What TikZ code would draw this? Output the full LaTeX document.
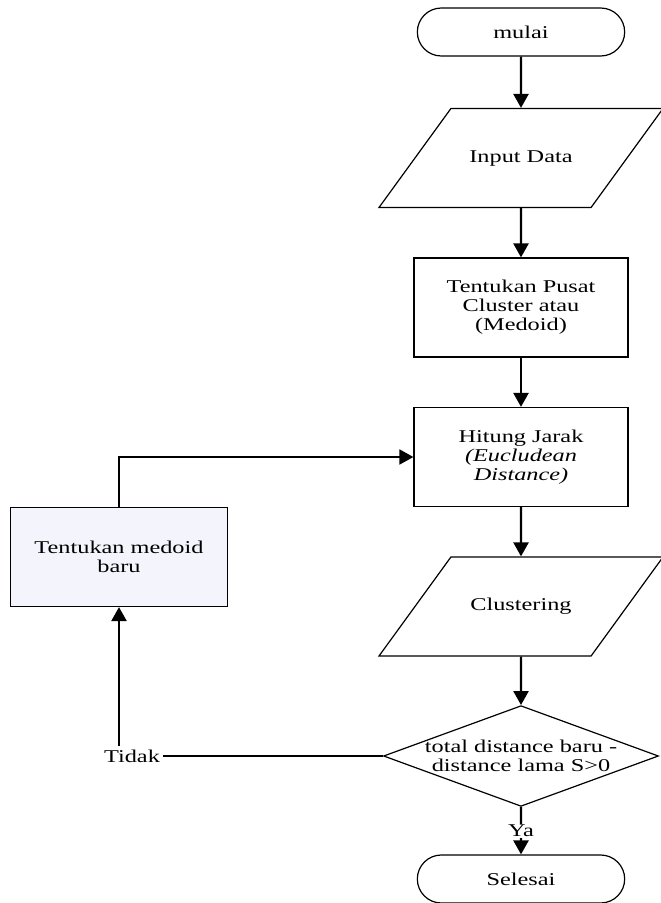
\documentclass[tikz,border=0pt]{standalone}
\usepackage{fontspec}
\setmainfont{Liberation Serif}[FakeStretch=1.35]
\usetikzlibrary{arrows.meta, shapes.geometric, shapes.misc}
\definecolor{newbox}{RGB}{244,245,252}

\begin{document}
\begin{tikzpicture}[
    x=1pt, y=-1pt,
    every node/.style={font=\fontsize{18}{19}\selectfont},
    terminal/.style={rounded rectangle, draw, line width=1.2pt, minimum width=214pt, minimum height=48pt},
    io/.style={trapezium, trapezium left angle=54, trapezium right angle=126, trapezium stretches body=true, draw, line width=1.2pt, text height=12pt, text depth=4pt, inner ysep=41.5pt, minimum width=284pt},
    process/.style={rectangle, draw, line width=1.2pt, minimum width=214pt, minimum height=99pt, align=center},
    decision/.style={diamond, draw, line width=1.2pt, aspect=2.73, inner sep=-0.5pt, align=center},
    arrow/.style={-{Triangle[width=15pt, length=14pt]}, line width=2.4pt},
    back/.style={-{Triangle[width=15pt, length=14pt]}, line width=1.8pt}
]
\useasboundingbox (0,0) rectangle (661,903);

\node[terminal] (mulai) at (521,32) {mulai};
\node[io] (input) at (521,158) {Input Data};
\node[process] (pusat) at (521,307.5) {Tentukan Pusat\\Cluster atau\\(Medoid)};
\node[process] (hitung) at (521,457) {Hitung Jarak\\\textit{(Eucludean}\\\textit{Distance)}};
\node[io] (clust) at (521,606.5) {Clustering};
\node[decision] (cek) at (521,756) {total distance baru -\\distance lama S>0};
\node[terminal] (selesai) at (521,879) {Selesai};
\node[process, fill=newbox, minimum width=217pt] (medbaru) at (119,557) {Tentukan medoid\\baru};
\node (tidak) at (132,756) {Tidak};

\draw[arrow] (mulai) -- (input);
\draw[arrow] (input) -- (pusat);
\draw[arrow] (pusat) -- (hitung);
\draw[arrow] (hitung) -- (clust);
\draw[arrow] (clust) -- (cek);
\draw[arrow] (cek) -- node[fill=white, inner sep=1pt] {Ya} (selesai);
\draw[line width=1.6pt] (cek.west) -- (tidak.east);
\draw[arrow] (tidak.north -| medbaru.south) -- (medbaru.south);
\draw[back] (medbaru.north) |- (hitung.west);

\end{tikzpicture}
\end{document}
